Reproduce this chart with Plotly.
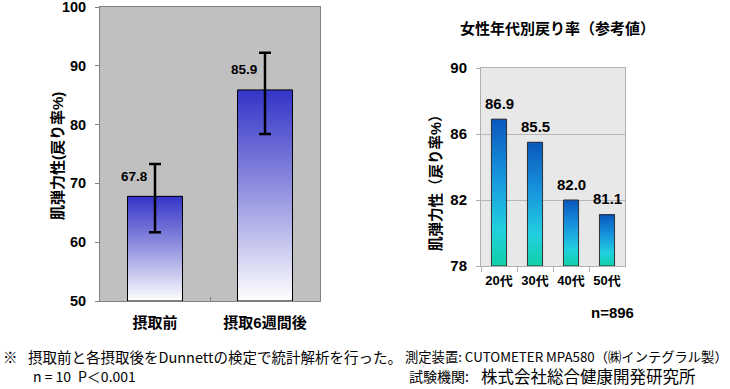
import plotly.graph_objects as go

# ---------------- data ----------------
left_categories = ["摂取前", "摂取6週間後"]
left_values = [67.8, 85.9]
left_err_plus = [5.5, 6.3]
left_err_minus = [6.1, 7.5]
left_labels = ["67.8", "85.9"]
left_yticks = [50, 60, 70, 80, 90, 100]

right_categories = ["20代", "30代", "40代", "50代"]
right_values = [86.9, 85.5, 82.0, 81.1]
right_labels = ["86.9", "85.5", "82.0", "81.1"]
right_yticks = [78, 82, 86, 90]

W, H = 730, 389
def X(px): return px / W
def Y(py): return 1 - py / H

FONT = "Liberation Sans, Arial, Noto Sans CJK JP"
CJK = "Noto Sans CJK JP"

def lerp_stops(stops, t):
    for i in range(len(stops) - 1):
        t0, c0 = stops[i]
        t1, c1 = stops[i + 1]
        if t0 <= t <= t1:
            f = (t - t0) / (t1 - t0) if t1 > t0 else 0
            c = [round(c0[j] + (c1[j] - c0[j]) * f) for j in range(3)]
            return "rgb(%d,%d,%d)" % tuple(c)
    c = stops[-1][1]
    return "rgb(%d,%d,%d)" % tuple(c)

left_stops = [(0.0, (255, 255, 255)), (0.5, (150, 150, 225)), (1.0, (52, 52, 200))]
right_stops = [(0.0, (16, 208, 168)), (0.25, (34, 208, 222)), (0.6, (24, 150, 222)), (1.0, (10, 88, 188))]

fig = go.Figure()
N = 60

def gradient_bars(cats, vals, lo, stops, xa, ya, width):
    for k in range(N):
        f = k / N
        fig.add_trace(go.Bar(
            x=cats,
            base=[lo + (v - lo) * f for v in vals],
            y=[(v - lo) * (1 - f) for v in vals],
            marker=dict(color=lerp_stops(stops, (k + 0.5) / N), line=dict(width=0), opacity=1),
            width=width, xaxis=xa, yaxis=ya, showlegend=False, hoverinfo="skip"))

# left chart
gradient_bars(left_categories, left_values, 50, left_stops, "x", "y", 0.5)
fig.add_trace(go.Bar(
    x=left_categories, base=[50] * len(left_values), y=[v - 50 for v in left_values],
    width=0.5, marker=dict(color="rgba(0,0,0,0)", line=dict(color="black", width=1)),
    error_y=dict(type="data", symmetric=False, array=left_err_plus, arrayminus=left_err_minus,
                 color="black", thickness=2.5, width=6),
    xaxis="x", yaxis="y", showlegend=False))

# right chart
gradient_bars(right_categories, right_values, 78, right_stops, "x2", "y2", 0.42)
fig.add_trace(go.Bar(
    x=right_categories, base=[78] * len(right_values), y=[v - 78 for v in right_values],
    width=0.42, marker=dict(color="rgba(0,0,0,0)", line=dict(color="#333333", width=1)),
    xaxis="x2", yaxis="y2", showlegend=False))

ann = []
def A(**kw):
    kw.setdefault("showarrow", False)
    kw.setdefault("xanchor", "center")
    kw.setdefault("yanchor", "middle")
    ann.append(kw)

for c, v, t in zip(left_categories, left_values, left_labels):
    A(x=c, y=v, xref="x", yref="y", text=t, xshift=-21, yshift=20,
      font=dict(family=FONT, size=13.5, color="black", weight="bold"))
for c, v, t in zip(right_categories, right_values, right_labels):
    A(x=c, y=v, xref="x2", yref="y2", text=t, xshift=0, yshift=16,
      font=dict(family=FONT, size=15, color="black", weight="bold"))

# axis titles / titles
A(x=X(57), y=Y(156), xref="paper", yref="paper", text="肌弾力性(戻り率%)", textangle=-90,
  font=dict(family=FONT, size=15, color="black", weight="bold"))
A(x=X(435), y=Y(180), xref="paper", yref="paper", text="肌弾力性（戻り率%）", textangle=-90,
  font=dict(family=FONT, size=14.5, color="black", weight="bold"))
A(x=X(557), y=Y(28), xref="paper", yref="paper", text="女性年代別戻り率（参考値）",
  font=dict(family=FONT, size=15, color="black", weight="bold"))
A(x=X(612), y=Y(312), xref="paper", yref="paper", text="n=896",
  font=dict(family=FONT, size=15, color="black", weight="bold"))

# footer
def foot(text, px, py, size=14, anchor="left"):
    A(x=X(px), y=Y(py), xref="paper", yref="paper", text=text, xanchor=anchor,
      font=dict(family=CJK, size=size, color="black"))
foot("※", 1, 356, size=14.5)
foot("摂取前と各摂取後をDunnettの検定で統計解析を行った。", 26, 356, size=14.5)
foot("n = 10", 31, 376, size=14)
foot("P＜0.001", 76, 376, size=14)
foot("測定装置: CUTOMETER MPA580（㈱インテグラル製）", 403, 356, size=13.3)
foot("試験機関:", 407, 376, size=14)
foot("株式会社総合健康開発研究所", 479, 376, size=16.5)

tickfont_l = dict(family=FONT, size=14.5, color="black", weight="bold")
tickfont_r = dict(family=FONT, size=15, color="black", weight="bold")

fig.update_layout(
    width=W, height=H, margin=dict(l=0, r=0, t=0, b=0, autoexpand=False),
    paper_bgcolor="white", plot_bgcolor="white",
    barmode="overlay", showlegend=False, annotations=ann,
    xaxis=dict(domain=[X(100), X(320)], anchor="y", type="category",
               showline=True, linecolor="#808080", mirror=True, linewidth=1,
               ticks="inside", tickson="boundaries", ticklen=4, tickcolor="#808080",
               tickfont=dict(family=FONT, size=15, color="black", weight="bold"),
               ticklabelstandoff=8, showgrid=False, tickangle=0, ticklabeloverflow="allow"),
    yaxis=dict(domain=[Y(301), Y(7)], anchor="x", range=[50, 100], tickvals=left_yticks,
               showline=True, linecolor="#808080", mirror=True, linewidth=1,
               ticks="outside", ticklen=4, tickcolor="#808080", tickfont=tickfont_l,
               ticklabelstandoff=6, showgrid=False, zeroline=False, ticklabeloverflow="allow"),
    xaxis2=dict(domain=[X(481), X(625)], anchor="y2", type="category",
                showline=True, linecolor="#B0B0B0", mirror=True, linewidth=1,
                ticks="outside", tickson="boundaries", ticklen=5, tickcolor="#B0B0B0",
                tickfont=dict(family=FONT, size=13, color="black", weight="bold"),
                ticklabelstandoff=2, showgrid=False, tickangle=0, ticklabeloverflow="allow"),
    yaxis2=dict(domain=[Y(266), Y(68)], anchor="x2", range=[78, 90], tickvals=right_yticks,
                showline=True, linecolor="#B0B0B0", mirror=True, linewidth=1,
                ticks="outside", ticklen=4, tickcolor="#B0B0B0", tickfont=tickfont_r,
                ticklabelstandoff=6, showgrid=True, gridcolor="#B8B8B8", gridwidth=1, zeroline=False,
                ticklabeloverflow="allow"),
    shapes=[
        dict(type="rect", xref="x domain", yref="y domain", x0=0, x1=1, y0=0, y1=1,
             fillcolor="#C0C0C0", line=dict(width=0), layer="below"),
        dict(type="rect", xref="x2 domain", yref="y2 domain", x0=0, x1=1, y0=0, y1=1,
             fillcolor="#E8E8E8", line=dict(width=0), layer="below"),
    ],
)

fig.write_html("out.html", config={"displayModeBar": False},
               post_script="document.body.style.margin='0';document.body.style.overflow='hidden';")
